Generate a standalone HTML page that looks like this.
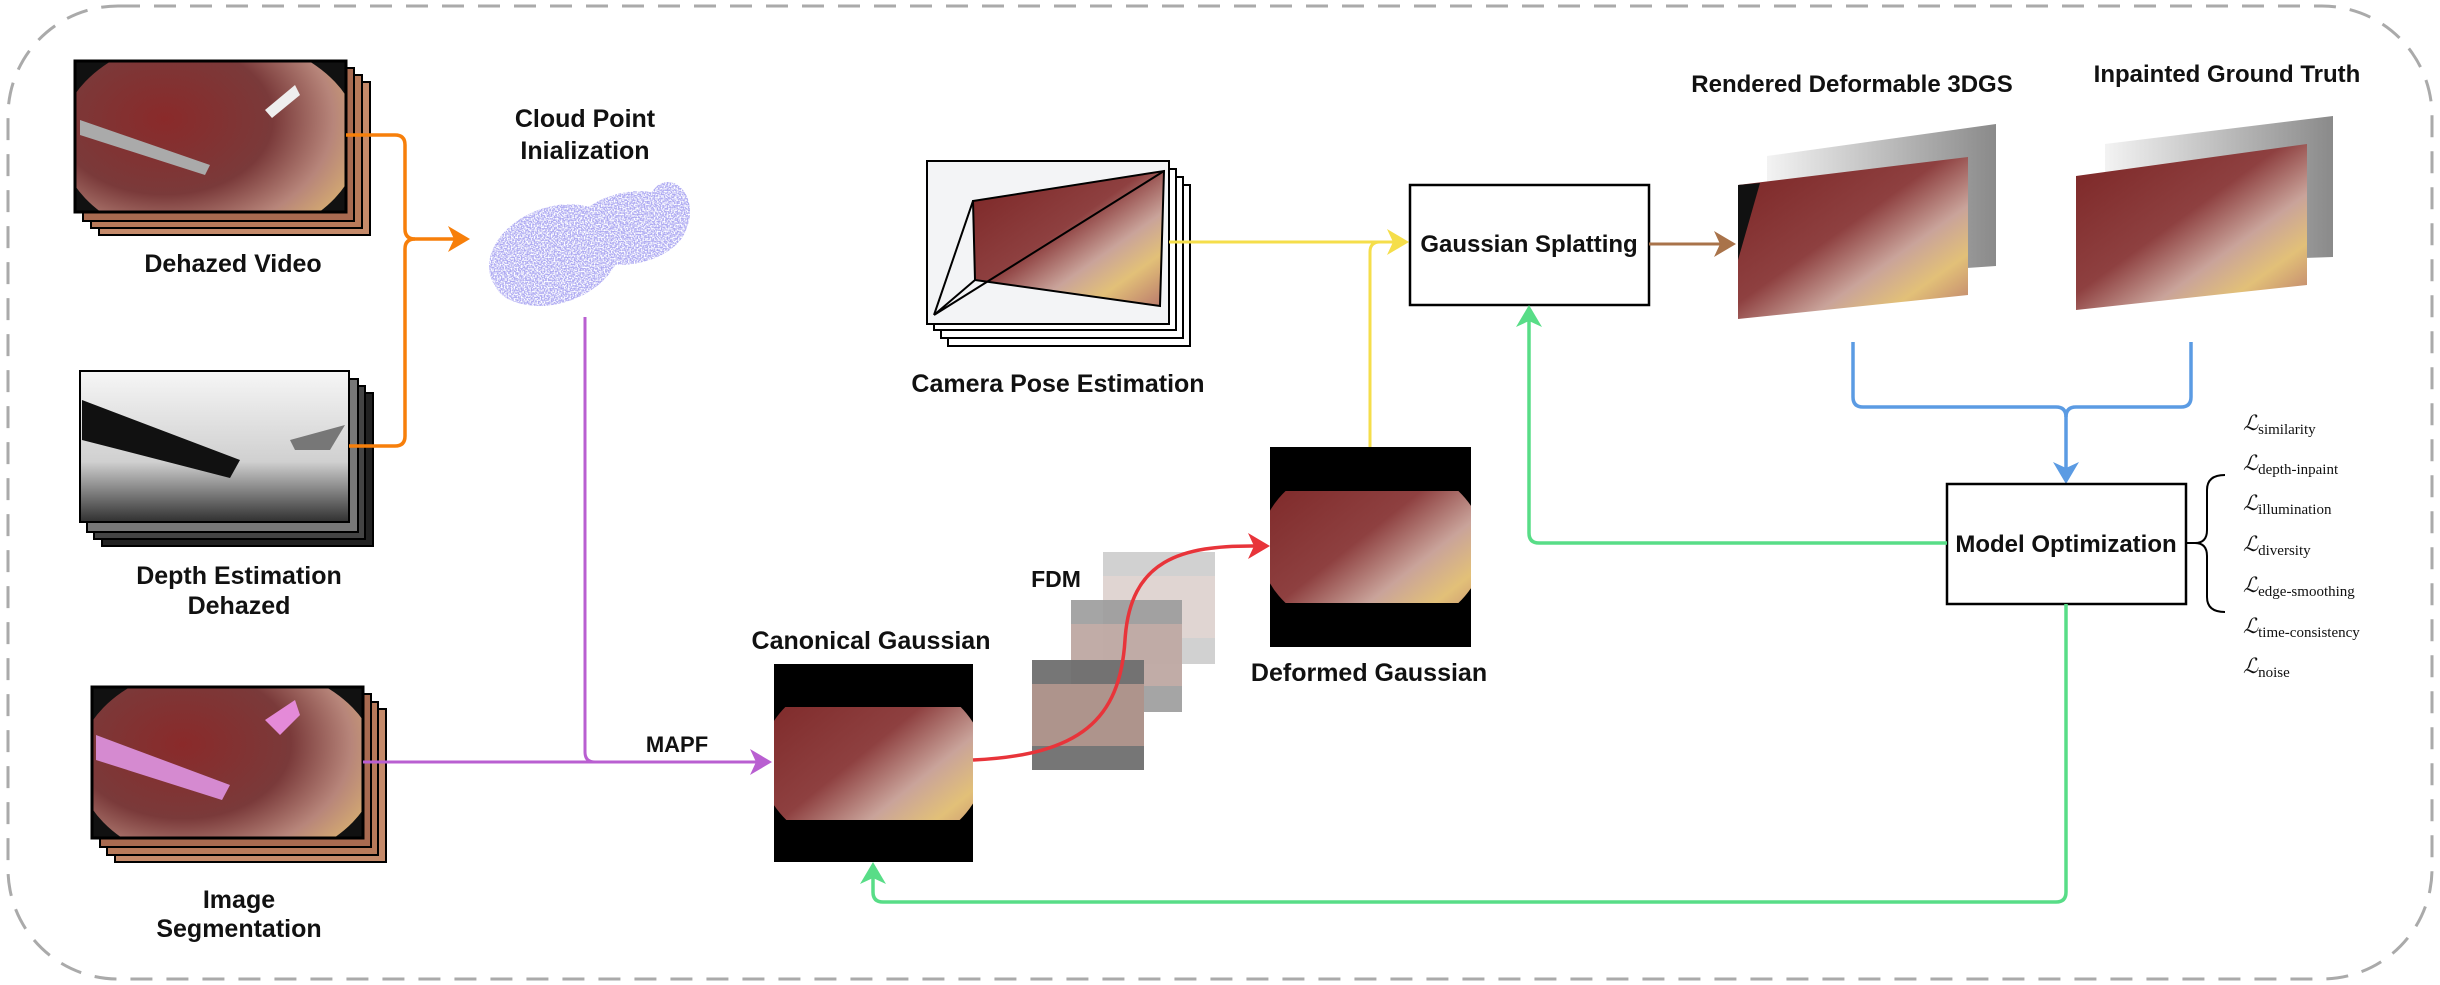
<!DOCTYPE html>
<html><head><meta charset="utf-8"><style>
html,body{margin:0;padding:0;background:#fff;}
svg{display:block}
text{font-family:"Liberation Sans",sans-serif;font-weight:bold;fill:#111;}
.l{font-size:25px;text-anchor:middle}
.m{font-family:"Liberation Serif",serif;font-weight:normal;font-size:17px;}
.m .s{font-size:15px}
</style></head><body>
<svg width="2440" height="985" viewBox="0 0 2440 985" xmlns="http://www.w3.org/2000/svg">
<defs>
<radialGradient id="surg" cx="0.35" cy="0.4" r="0.8">
<stop offset="0" stop-color="#8a2a2a"/><stop offset="0.45" stop-color="#7a3a3a"/><stop offset="0.7" stop-color="#b7857a"/><stop offset="0.9" stop-color="#d9b070"/><stop offset="1" stop-color="#c8906a"/>
</radialGradient>
<linearGradient id="surg2" x1="0" y1="0" x2="1" y2="1">
<stop offset="0" stop-color="#7b2424"/><stop offset="0.45" stop-color="#8e4040"/><stop offset="0.65" stop-color="#c9a39a"/><stop offset="0.8" stop-color="#e2c078"/><stop offset="1" stop-color="#b9786c"/>
</linearGradient>
<linearGradient id="depth" x1="0" y1="0" x2="0" y2="1">
<stop offset="0" stop-color="#f6f6f6"/><stop offset="0.6" stop-color="#d0d0d0"/><stop offset="1" stop-color="#303030"/>
</linearGradient>
<linearGradient id="grayfade" x1="0" y1="0" x2="1" y2="0">
<stop offset="0" stop-color="#f3f3f3"/><stop offset="1" stop-color="#8a8a8a"/>
</linearGradient>
<clipPath id="c1"><rect x="75" y="61" width="271" height="151"/></clipPath>
<clipPath id="c3"><rect x="92" y="687" width="271" height="151"/></clipPath>
<clipPath id="c4"><rect x="774" y="707" width="199" height="113"/></clipPath>
<clipPath id="c5"><rect x="1270" y="491" width="201" height="112"/></clipPath>
<filter id="spk" x="0" y="0" width="100%" height="100%">
<feTurbulence type="fractalNoise" baseFrequency="0.7" numOctaves="1" seed="3" result="n"/>
<feColorMatrix in="n" type="matrix" values="0 0 0 0 0  0 0 0 0 0  0 0 0 0 0  0 0 0 -4 2.6" result="a"/>
<feComposite in="SourceGraphic" in2="a" operator="in"/>
</filter>
</defs>

<rect x="8" y="6" width="2424" height="973" rx="110" fill="none" stroke="#aaa" stroke-width="3" stroke-dasharray="22 14"/>

<!-- Dehazed video stack -->
<g stroke="#000" stroke-width="2">
<rect x="99" y="82" width="271" height="153" fill="#c58a6a"/>
<rect x="91" y="75" width="271" height="153" fill="#b87a5a"/>
<rect x="83" y="68" width="271" height="153" fill="#a86a50"/>
<rect x="75" y="61" width="271" height="151" fill="#111"/>
</g>
<g clip-path="url(#c1)">
<ellipse cx="210" cy="140" rx="150" ry="105" fill="url(#surg)"/>
<path d="M80,120 L210,165 L205,175 L80,135z" fill="#aaa"/>
<path d="M265,110 L295,85 L300,95 L272,118z" fill="#eee"/>
</g>
<rect x="75" y="61" width="271" height="151" fill="none" stroke="#000" stroke-width="3"/>
<text class="l" x="233" y="272">Dehazed Video</text>

<!-- Depth stack -->
<g stroke="#000" stroke-width="2">
<rect x="102" y="393" width="271" height="153" fill="#222"/>
<rect x="94" y="386" width="271" height="153" fill="#444"/>
<rect x="87" y="379" width="271" height="153" fill="#777"/>
<rect x="80" y="371" width="269" height="151" fill="url(#depth)"/>
</g>
<path d="M82,400 L240,460 L230,478 L82,440z" fill="#111"/>
<path d="M290,440 L345,425 L330,450 L295,450z" fill="#777"/>
<text class="l" x="239" y="584">Depth Estimation</text>
<text class="l" x="239" y="614">Dehazed</text>

<!-- Seg stack -->
<g stroke="#000" stroke-width="2">
<rect x="115" y="709" width="271" height="153" fill="#c58a6a"/>
<rect x="107" y="702" width="271" height="153" fill="#b87a5a"/>
<rect x="100" y="694" width="271" height="153" fill="#a86a50"/>
<rect x="92" y="687" width="271" height="151" fill="#111"/>
</g>
<g clip-path="url(#c3)">
<ellipse cx="228" cy="765" rx="150" ry="103" fill="url(#surg)"/>
<path d="M96,735 L230,785 L222,800 L96,760z" fill="#d58ad0"/>
<path d="M265,720 L295,700 L300,715 L280,735z" fill="#e48ad8"/>
</g>
<rect x="92" y="687" width="271" height="151" fill="none" stroke="#000" stroke-width="3"/>
<text class="l" x="239" y="908">Image</text>
<text class="l" x="239" y="937">Segmentation</text>

<!-- Cloud -->
<g fill="#aeaaf2" filter="url(#spk)">
<ellipse cx="555" cy="255" rx="68" ry="48" transform="rotate(-20 555 255)"/>
<ellipse cx="630" cy="228" rx="58" ry="36" transform="rotate(-10 630 228)"/>
<ellipse cx="540" cy="282" rx="45" ry="24"/>
<ellipse cx="668" cy="212" rx="22" ry="30"/>
</g>
<text class="l" x="585" y="127">Cloud Point</text>
<text class="l" x="585" y="159">Inialization</text>

<!-- orange connectors -->
<path d="M346,135 L395,135 Q405,135 405,145 L405,229 Q405,239 415,239 L462,239" fill="none" stroke="#f77f0a" stroke-width="3.5"/>
<path d="M349,446 L395,446 Q405,446 405,436 L405,249 Q405,239 415,239" fill="none" stroke="#f77f0a" stroke-width="3.5"/>
<path d="M470,239 L448,226 L454,239 L448,252z" fill="#f77f0a"/>

<!-- purple -->
<path d="M585,317 L585,752 Q585,762 595,762 L762,762" fill="none" stroke="#b95fd1" stroke-width="3"/>
<path d="M363,762 L600,762" fill="none" stroke="#b95fd1" stroke-width="3"/>
<path d="M772,762 L750,749 L756,762 L750,775z" fill="#b95fd1"/>
<text class="l" x="677" y="752" style="font-size:22px">MAPF</text>

<!-- Canonical -->
<rect x="774" y="664" width="199" height="198" fill="#000"/>
<g clip-path="url(#c4)"><ellipse cx="873" cy="763" rx="112" ry="90" fill="url(#surg2)"/></g>
<text class="l" x="871" y="649">Canonical Gaussian</text>

<!-- FDM -->
<text class="l" x="1056" y="587" style="font-size:23px">FDM</text>
<rect x="1103" y="552" width="112" height="112" fill="#cfcfcf" opacity="0.95"/>
<rect x="1103" y="576" width="112" height="62" fill="#e4d6d2" opacity="0.8"/>
<rect x="1071" y="600" width="111" height="112" fill="#9b9b9b" opacity="0.9"/>
<rect x="1071" y="624" width="111" height="62" fill="#c8aea8" opacity="0.8"/>
<rect x="1032" y="660" width="112" height="110" fill="#6f6f6f" opacity="0.95"/>
<rect x="1032" y="684" width="112" height="62" fill="#b89a90" opacity="0.85"/>
<path d="M973,760 C1080,755 1120,720 1125,640 C1130,560 1180,545 1258,546" fill="none" stroke="#e8343a" stroke-width="3.5"/>
<path d="M1270,546 L1248,533 L1254,546 L1248,559z" fill="#e8343a"/>

<!-- Camera pose -->
<g stroke="#000" stroke-width="2" fill="#fff">
<rect x="948" y="185" width="242" height="161"/>
<rect x="941" y="177" width="242" height="161"/>
<rect x="934" y="169" width="242" height="161"/>
<rect x="927" y="161" width="242" height="163" fill="#f3f4f6"/>
</g>
<path d="M973,201 L1164,171 L1160,306 L975,280z" fill="url(#surg2)"/>
<g stroke="#000" stroke-width="2" fill="none">
<path d="M973,201 L1164,171 L1160,306 L975,280z"/>
<path d="M934,315 L973,201 M934,315 L975,280 M934,315 L1164,171"/>
</g>
<text class="l" x="1058" y="392">Camera Pose Estimation</text>

<!-- yellow -->
<path d="M1169,242 L1395,242" fill="none" stroke="#f5de4a" stroke-width="3"/>
<path d="M1370,447 L1370,252 Q1370,242 1380,242" fill="none" stroke="#f5de4a" stroke-width="3"/>
<path d="M1409,242 L1387,229 L1393,242 L1387,255z" fill="#f5de4a"/>

<rect x="1410" y="185" width="239" height="120" fill="#fff" stroke="#000" stroke-width="2.5"/>
<text class="l" x="1529" y="252" style="font-size:24px">Gaussian Splatting</text>

<path d="M1649,244 L1725,244" fill="none" stroke="#a9734a" stroke-width="3"/>
<path d="M1736,244 L1714,231 L1720,244 L1714,257z" fill="#a9734a"/>

<text class="l" x="1852" y="92" style="font-size:24px">Rendered Deformable 3DGS</text>
<path d="M1767,156 L1996,124 L1996,266 L1967,268 L1767,275z" fill="url(#grayfade)"/>
<path d="M1738,185 L1968,157 L1968,295 L1738,319z" fill="url(#surg2)"/>
<path d="M1738,185 L1760,183 L1738,260z" fill="#111"/>

<text class="l" x="2227" y="82" style="font-size:24px">Inpainted Ground Truth</text>
<path d="M2105,144 L2333,116 L2333,257 L2105,265z" fill="url(#grayfade)"/>
<path d="M2076,176 L2307,144 L2307,285 L2076,310z" fill="url(#surg2)"/>

<!-- blue -->
<path d="M1853,342 L1853,397 Q1853,407 1863,407 L2056,407 Q2066,407 2066,417 L2066,474" fill="none" stroke="#5b9be3" stroke-width="3.5"/>
<path d="M2191,342 L2191,397 Q2191,407 2181,407 L2076,407 Q2066,407 2066,417" fill="none" stroke="#5b9be3" stroke-width="3.5"/>
<path d="M2066,484 L2053,462 L2066,468 L2079,462z" fill="#5b9be3"/>

<rect x="1947" y="484" width="239" height="120" fill="#fff" stroke="#000" stroke-width="2.5"/>
<text class="l" x="2066" y="552" style="font-size:24px">Model Optimization</text>

<!-- green -->
<path d="M1947,543 L1539,543 Q1529,543 1529,533 L1529,318" fill="none" stroke="#58dd87" stroke-width="3.5"/>
<path d="M1529,305 L1516,327 L1529,321 L1542,327z" fill="#58dd87"/>
<path d="M2066,604 L2066,892 Q2066,902 2056,902 L883,902 Q873,902 873,892 L873,875" fill="none" stroke="#58dd87" stroke-width="3.5"/>
<path d="M873,862 L860,884 L873,878 L886,884z" fill="#58dd87"/>

<!-- Deformed -->
<rect x="1270" y="447" width="201" height="200" fill="#000"/>
<g clip-path="url(#c5)"><ellipse cx="1372" cy="547" rx="112" ry="88" fill="url(#surg2)"/></g>
<text class="l" x="1369" y="681">Deformed Gaussian</text>

<path d="M2225,475 Q2207,475 2207,490 L2207,530 Q2207,543 2195,543 Q2207,543 2207,556 L2207,597 Q2207,612 2225,612" fill="none" stroke="#000" stroke-width="2"/>
<path d="M2186,543 L2197,543" stroke="#000" stroke-width="2"/>

<text class="m" x="2243" y="430"><tspan font-style="italic" font-size="21">ℒ</tspan><tspan class="s" dy="4">similarity</tspan></text>
<text class="m" x="2243" y="470"><tspan font-style="italic" font-size="21">ℒ</tspan><tspan class="s" dy="4">depth-inpaint</tspan></text>
<text class="m" x="2243" y="510"><tspan font-style="italic" font-size="21">ℒ</tspan><tspan class="s" dy="4">illumination</tspan></text>
<text class="m" x="2243" y="551"><tspan font-style="italic" font-size="21">ℒ</tspan><tspan class="s" dy="4">diversity</tspan></text>
<text class="m" x="2243" y="592"><tspan font-style="italic" font-size="21">ℒ</tspan><tspan class="s" dy="4">edge-smoothing</tspan></text>
<text class="m" x="2243" y="633"><tspan font-style="italic" font-size="21">ℒ</tspan><tspan class="s" dy="4">time-consistency</tspan></text>
<text class="m" x="2243" y="673"><tspan font-style="italic" font-size="21">ℒ</tspan><tspan class="s" dy="4">noise</tspan></text>
</svg>
</body></html>
